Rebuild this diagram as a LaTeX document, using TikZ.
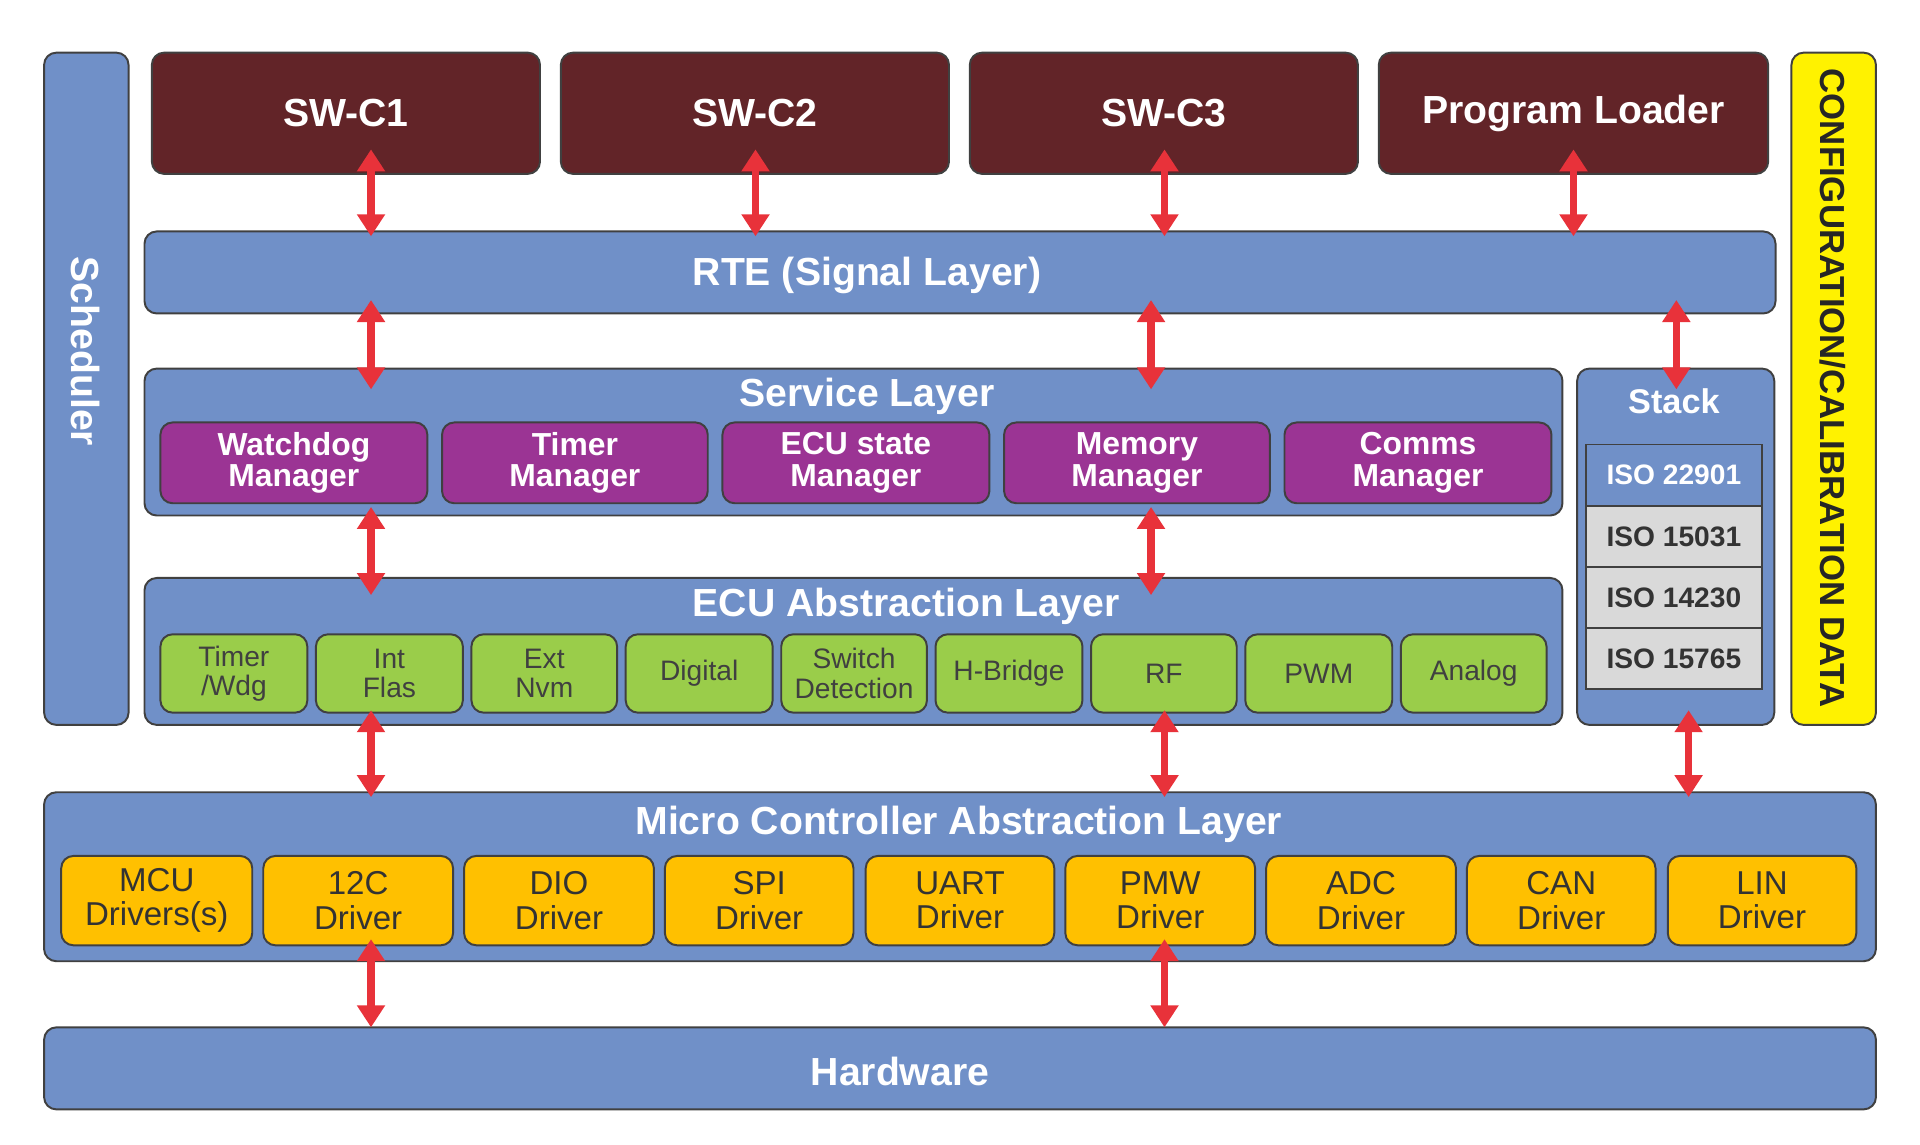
\documentclass[tikz,border=0pt]{standalone}
\usepackage{fontspec}
\setmainfont{Liberation Sans}
\usetikzlibrary{arrows.meta}
\definecolor{lb}{HTML}{7090C8}
\definecolor{dr}{HTML}{622428}
\definecolor{pu}{HTML}{9B3494}
\definecolor{gr}{HTML}{9ACD4A}
\definecolor{og}{HTML}{FFC000}
\definecolor{ye}{HTML}{FFF200}
\definecolor{lg}{HTML}{D9D9D9}
\definecolor{ar}{HTML}{E8323A}
\tikzset{
 base/.style={draw=black!75,line width=0.8pt,rounded corners=5pt,inner sep=0pt,align=center},
 layer/.style={base,fill=lb},
 swc/.style={base,fill=dr,text=white,font=\fontsize{16}{18}\selectfont\bfseries},
 mgr/.style={base,fill=pu,text=white,font=\fontsize{13}{13}\selectfont\bfseries},
 grn/.style={base,fill=gr,text=black!75,font=\fontsize{11.5}{12}\selectfont},
 org/.style={base,fill=og,text=black!80,font=\fontsize{13.5}{14}\selectfont},
 iso/.style={draw=black!75,line width=0.8pt,inner sep=0pt,fill=lg,text=black!80,font=\fontsize{11.5}{12}\selectfont\bfseries},
 ttl/.style={text=white,font=\fontsize{16}{18}\selectfont\bfseries},
 dar/.style={{Triangle[length=9pt,width=11pt]}-{Triangle[length=9pt,width=11pt]},line width=3pt,draw=ar},
}
\newcommand{\bx}[7]{\node[#6,minimum width={(#4-#2)*0.5pt},minimum height={(#5-#3)*0.5pt}] (#1) at ({(#2+#4)/2},{(#3+#5)/2}) {#7};}
\newcommand{\arr}[4]{\coordinate (#1a) at (#2,#3); \coordinate (#1b) at (#2,#4); \draw[dar] (#1a) -- (#1b);}
\begin{document}
\begin{tikzpicture}[x=0.5pt,y=-0.5pt]
\useasboundingbox (0,0) rectangle (1568,935);
\bx{sched}{36}{43}{105}{592}{layer}{}
\node[ttl,rotate=-90] (schedt) at (70,287) {Scheduler};
\bx{cfg}{1463}{43}{1532}{592}{base,fill=ye}{}
\node[rotate=-90,text=black!85,font=\fontsize{14.2}{15}\selectfont\bfseries] (cfgt) at (1497,317) {CONFIGURATION/CALIBRATION DATA};
\bx{s1}{124}{43}{441}{142}{swc}{SW-C1}
\bx{s2}{458}{43}{775}{142}{swc}{SW-C2}
\bx{s3}{792}{43}{1109}{142}{swc}{SW-C3}
\bx{s4}{1126}{43}{1444}{142}{swc}{Program Loader}
\bx{rte}{118}{189}{1450}{256}{layer}{}
\node[ttl] (rtet) at (708,225) {RTE (Signal Layer)};
\bx{svc}{118}{301}{1276}{421}{layer}{}
\node[ttl] (svct) at (708,324) {Service Layer};
\bx{m1}{131}{345}{349}{411}{mgr}{Watchdog\\Manager}
\bx{m2}{361}{345}{578}{411}{mgr}{Timer\\Manager}
\bx{m3}{590}{345}{808}{411}{mgr}{ECU state\\Manager}
\bx{m4}{820}{345}{1037}{411}{mgr}{Memory\\Manager}
\bx{m5}{1049}{345}{1267}{411}{mgr}{Comms\\Manager}
\bx{stk}{1288}{301}{1449}{592}{layer}{}
\node[ttl,font=\fontsize{14}{16}\selectfont\bfseries] (stkt) at (1367,328) {Stack};
\bx{i1}{1295}{363}{1439}{413}{iso,fill=lb,text=white}{ISO 22901}
\bx{i2}{1295}{413}{1439}{463}{iso}{ISO 15031}
\bx{i3}{1295}{463}{1439}{513}{iso}{ISO 14230}
\bx{i4}{1295}{513}{1439}{563}{iso}{ISO 15765}
\bx{ecu}{118}{472}{1276}{592}{layer}{}
\node[ttl] (ecut) at (740,495) {ECU Abstraction Layer};
\bx{g1}{131}{518}{251}{582}{grn}{Timer\\/Wdg}
\bx{g2}{258}{518}{378}{582}{grn}{Int\\Flas}
\bx{g3}{385}{518}{504}{582}{grn}{Ext\\Nvm}
\bx{g4}{511}{518}{631}{582}{grn}{Digital}
\bx{g5}{638}{518}{757}{582}{grn}{Switch\\Detection}
\bx{g6}{764}{518}{884}{582}{grn}{H-Bridge}
\bx{g7}{891}{518}{1010}{582}{grn}{RF}
\bx{g8}{1017}{518}{1137}{582}{grn}{PWM}
\bx{g9}{1144}{518}{1263}{582}{grn}{Analog}
\bx{mc}{36}{647}{1532}{785}{layer}{}
\node[ttl] (mct) at (783,673) {Micro Controller Abstraction Layer};
\bx{o1}{50}{699}{206}{772}{org}{MCU\\Drivers(s)}
\bx{o2}{215}{699}{370}{772}{org}{12C\\Driver}
\bx{o3}{379}{699}{534}{772}{org}{DIO\\Driver}
\bx{o4}{543}{699}{697}{772}{org}{SPI\\Driver}
\bx{o5}{707}{699}{861}{772}{org}{UART\\Driver}
\bx{o6}{870}{699}{1025}{772}{org}{PMW\\Driver}
\bx{o7}{1034}{699}{1189}{772}{org}{ADC\\Driver}
\bx{o8}{1198}{699}{1352}{772}{org}{CAN\\Driver}
\bx{o9}{1362}{699}{1516}{772}{org}{LIN\\Driver}
\bx{hw}{36}{839}{1532}{906}{layer}{}
\node[ttl] (hwt) at (735,875) {Hardware};
\arr{a1}{303}{122}{193}
\arr{a2}{617}{122}{193}
\arr{a3}{951}{122}{193}
\arr{a4}{1285}{122}{193}
\arr{a5}{303}{245}{318}
\arr{a6}{940}{245}{318}
\arr{a7}{1369}{245}{318}
\arr{a8}{303}{414}{486}
\arr{a9}{940}{414}{486}
\arr{b1}{303}{580}{651}
\arr{b2}{951}{580}{651}
\arr{b3}{1379}{580}{651}
\arr{b4}{303}{767}{839}
\arr{b5}{951}{767}{839}
\end{tikzpicture}
\end{document}
